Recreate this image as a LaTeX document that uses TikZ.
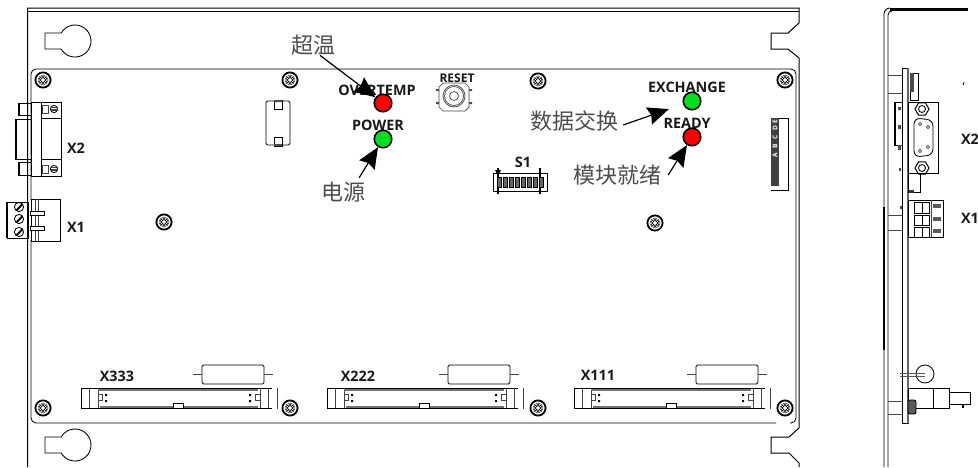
\documentclass[tikz,border=0pt]{standalone}
\usepackage{fontspec}
\setmainfont{Open Sans}
\newfontfamily\cjk{Noto Sans CJK SC}
\usetikzlibrary{arrows.meta,shapes}
\definecolor{ledred}{HTML}{FF0000}
\definecolor{ledgreen}{HTML}{00E01E}
\definecolor{linegray}{HTML}{444444}
\tikzset{
    part/.style={draw=black, line width=0.85pt},
    thinpart/.style={draw=linegray, line width=0.7pt},
    heavy/.style={draw=black, line width=2.4pt},
    tag/.style={font=\bfseries\fontsize{14.4}{14.4}\selectfont, inner sep=0pt, text=black!90},
    smalltag/.style={font=\bfseries\fontsize{12}{12}\selectfont, inner sep=0pt, text=black!90},
    note/.style={font=\cjk\fontsize{22}{22}\selectfont, inner sep=0pt, text=black!70},
    led/.style={circle, draw=black, line width=1.6pt, minimum size=17.5pt, inner sep=0pt},
    notearrow/.style={-{Stealth[length=21pt,width=18pt,inset=2.5pt]}, line width=1.2pt, black},
    screw/.pic={
        \draw[black, line width=1.8pt] (0,0) circle[radius=7.6pt];
        \draw[linegray, line width=0.5pt] (0,0) circle[radius=5pt];
        \foreach \a in {30,90,...,330}
            \draw[black, line width=0.5pt, fill=white] (\a:3pt) circle[radius=1.3pt];
    },
    cardslot/.pic={
        \draw[part] (191,0) -- (0,0) -- (0,20) -- (191,20);
        \draw[thinpart] (8,0) -- (8,20) (17,0) -- (17,20) (179,0) -- (179,20) (187,0) -- (187,20);
        \draw[draw=black!55, line width=1.2pt] (17,2) -- (177,2) (19,19) -- (92,19) (102,19) -- (177,19);
        \draw[part, fill=white] (92,15) rectangle (102,20);
        \draw[thinpart] (17,6) -- (21,6) -- (21,12) -- (17,12) (179,6) -- (174,6) -- (174,12) -- (179,12);
        \fill[black] (24,6) rectangle (26,8) (24,12) rectangle (26,14) (168,6) rectangle (170,8) (168,12) rectangle (170,14);
        \draw[thinpart] (196,0) -- (196,21);
    },
    holder/.pic={
        \draw[part, rounded corners=1.5pt] (0,0) rectangle (62,19);
        \draw[thinpart, line width=1.5pt] (-9,9.5) -- (0,9.5) (62,9.5) -- (71,9.5);
    },
    keyhole/.pic={
        \draw[part] (-13.86,-8) -- (-30,-8) -- (-30,8) -- (-13.86,8) arc[start angle=210, end angle=510, radius=16pt];
    },
    subdscrew/.pic={
        \draw[thinpart] (0,-4) rectangle (6,4);
        \draw[part] (12,0) circle[radius=3.6pt];
        \draw[thinpart] (8.5,-1.5) -- (15.5,-1.5) (8.5,0) -- (15.5,0) (8.5,1.5) -- (15.5,1.5);
    },
    termscrew/.pic={
        \draw[part] (0,0) circle[radius=4.6pt];
        \draw[part] (-3,3) -- (3,-3) (-2,3.6) -- (3.6,-2);
    },
}
\begin{document}
\begin{tikzpicture}[x=1pt, y=-1pt]
    \useasboundingbox (0,0) rectangle (978,467);

    \draw[part, line width=1pt] (27.5,467) -- (27.5,8) -- (799,8) -- (799,23) -- (788,33) -- (771,33) -- (771,49) -- (788,49) -- (799,58) -- (799,428) -- (789,437) -- (771,437) -- (771,453) -- (789,453) -- (799,463) -- (799,467);
    \draw[part] (27.5,11) -- (799,11);
    \draw[part, rounded corners=5pt] (31,200) -- (31,69) -- (796,69) -- (796,423) -- (790,423);
    \draw[part, rounded corners=5pt] (31,240) -- (31,423) -- (776,423);
    \pic at (75,41) {keyhole};
    \pic at (75,445) {keyhole};

    \foreach \sx/\sy in {43/80, 290/80, 538/81, 785/80, 164/222, 655/223, 43/408, 290/408, 538/408, 785/408}
        \pic at (\sx,\sy) {screw};

    \draw[part, fill=white] (31,102) rectangle (61,176);
    \draw[part] (41,102) -- (41,176) (41,118) -- (61,118) (41,159) -- (61,159);
    \pic at (42,109) {subdscrew};
    \pic at (42,169) {subdscrew};
    \draw[part] (18,103) rectangle (31,115) (18,162) rectangle (31,175) (15,119) rectangle (31,159);
    \draw[heavy] (19,103) -- (19,115) (19,162) -- (19,175) (16,119) -- (16,159);

    \draw[part, fill=white] (31,199) rectangle (60,241);
    \draw[thinpart] (35,199) -- (35,241) (38,199) -- (38,241);
    \draw[part, fill=white] (30,211) rectangle (44,215) (30,226) rectangle (44,230);
    \draw[part] (7,202) rectangle (28,238);
    \draw[heavy] (7,202) -- (7,238);
    \foreach \ty in {207,219,232}
        \pic at (19,\ty) {termscrew};

    \draw[part, rounded corners=1.5pt] (266,101) rectangle (290,145);
    \draw[part] (274,100) rectangle (282,109) (274,137) rectangle (282,146);
    \fill[black!70] (274,100) rectangle (282,102) (274,144) rectangle (282,146);

    \draw[thinpart] (439,87) -- (443,83) -- (465,83) -- (469,87) -- (469,107) -- (465,111) -- (443,111) -- (439,107) -- cycle;
    \draw[thinpart] (454,96) circle[radius=11pt] (454,96) circle[radius=9.5pt] (454,96) circle[radius=4.5pt];
    \fill[black!70] (436,89) rectangle (439,91) (436,102) rectangle (439,104) (469,89) rectangle (472,91) (469,102) rectangle (472,104);

    \draw[part] (493,173) rectangle (547,191);
    \draw[line width=1.3pt] (498,168) -- (498,194) (540,168) -- (540,194);
    \foreach \n in {0,...,7}
        \draw[part, fill=black!60] ({497.5+\n*6},177) rectangle ++(3.6,10);
    \fill[black] (495,170) -- (501,170) -- (498,176) -- cycle;

    \draw[part] (771,118) rectangle (788,190);
    \fill[black!75] (771,118) rectangle (779,190);
    \fill[white] (771,190) rectangle (779,186);
    \foreach \lx/\ly/\ltr in {775/122/E, 775/128/D, 775/137/C, 775/146/B, 775/155/A}
        \node[rotate=90, inner sep=0pt, text=white, font=\bfseries\fontsize{6.5}{6.5}\selectfont] (strip\ltr) at (\lx,\ly) {\ltr};

    \foreach \cx/\hx in {81/202, 327/448, 574/696} {
        \pic at (\cx,388) {cardslot};
        \pic at (\hx,365) {holder};
    }

    \draw[part] (884,467) -- (884,14) arc[start angle=180, end angle=90, radius=6pt];
    \draw[part] (888,467) -- (888,15) arc[start angle=180, end angle=90, radius=4pt];
    \draw[draw=black, line width=3pt] (890,9.5) -- (968,9.5);
    \draw[heavy, line width=1.6pt] (884,207) -- (884,350);
    \draw[part] (902,68) rectangle (908,423);
    \draw[draw=black!60, line width=1.8pt] (908,68) -- (908,423);
    \draw[thinpart] (888,75) -- (902,75) (888,93) -- (902,93) (888,215) -- (902,215) (888,230) -- (902,230) (888,401) -- (902,401) (888,414) -- (902,414);
    \draw[part] (894,102) rectangle (902,145);
    \draw[heavy] (895,102) -- (895,145);
    \fill[black!70] (898,107) rectangle (901,110) (898,125) rectangle (901,129) (898,145) rectangle (901,150) (899,168) rectangle (901,171) (900,206) rectangle (902,209);
    \draw[part] (910,73) rectangle (918,100);
    \fill[black!70] (910,73) rectangle (914,92);
    \draw[line width=0.8pt] (963,85) -- (964,82);

    \draw[part] (908,102) rectangle (938,173);
    \foreach \ny in {109,168} {
        \node[regular polygon, regular polygon sides=6, draw=black, line width=1pt, minimum size=14pt, inner sep=0pt] (nut\ny) at (922,\ny) {};
        \draw[part] (922,\ny) circle[radius=3.5pt];
    }
    \draw[part, rounded corners=6pt] (914,118) -- (933,120) -- (933,155) -- (914,157) -- cycle;
    \foreach \px/\py in {920/124, 928/127, 920/151, 928/147}
        \draw[thinpart] (\px,\py) circle[radius=1.7pt];
    \draw[part] (908,173) rectangle (920,192);
    \fill[black!80] (909,190) rectangle (914,193);

    \draw[part] (908,200) rectangle (943,237);
    \foreach \ry/\rh in {202/11, 215/10, 227/10} {
        \draw[part] (914,\ry) rectangle ++(15,\rh);
        \draw[part] (922,\ry) -- ++(0,\rh);
        \fill[black!65] (933,{\ry+2}) rectangle ++(8,4);
    }
    \draw[thinpart] (931,200) -- (931,237);

    \draw[part] (925,374) circle[radius=9pt];
    \draw[draw=black!65, line width=1pt] (900,373) -- (925,373) (900,376) -- (925,376);
    \draw[part] (908,388) rectangle (949,408);
    \draw[part] (933,388) -- (933,408);
    \draw[part] (949,392) rectangle (970,404);
    \draw[line width=1.2pt] (963,404) -- (963,408);
    \draw[part, fill=black!65, rounded corners=2pt] (908,400) rectangle (916,414);

    \node[tag] (labelx2) at (76,148) {X2};
    \node[tag] (labelx1) at (76,227) {X1};
    \node[tag] (labelx333) at (117,376) {X333};
    \node[tag] (labelx222) at (358,376) {X222};
    \node[tag] (labelx111) at (598,375) {X111};
    \node[tag] (labels1) at (523,162) {S1};
    \node[tag] (sidex2) at (970,139) {X2};
    \node[tag] (sidex1) at (970,218) {X1};
    \node[smalltag] (labelreset) at (457,78) {RESET};

    \node[tag] (labelovertemp) at (377,90) {OVERTEMP};
    \node[tag] (labelpower) at (378,125) {POWER};
    \node[tag] (labelexchange) at (687,87) {EXCHANGE};
    \node[tag] (labelready) at (687,123) {READY};

    \node[led, fill=ledred] (overtemp) at (383,103) {};
    \node[led, fill=ledgreen] (power) at (383,139) {};
    \node[led, fill=ledgreen] (exchange) at (692,101) {};
    \node[led, fill=ledred] (ready) at (692,137) {};

    \node[note] (overtempnote) at (313,45) {超温};
    \node[note] (powernote) at (343,192) {电源};
    \node[note] (exchangenote) at (574,121) {数据交换};
    \node[note] (readynote) at (617,175) {模块就绪};

    \draw[notearrow] ([xshift=7pt]overtempnote.south) -- (overtemp);
    \draw[notearrow] ([xshift=-6pt,yshift=4pt]powernote.north east) -- (power);
    \draw[notearrow, shorten >=15pt] ([xshift=5pt,yshift=-4pt]exchangenote.east) -- (exchange);
    \draw[notearrow] ([xshift=7pt]readynote.east) -- (ready);
\end{tikzpicture}
\end{document}
